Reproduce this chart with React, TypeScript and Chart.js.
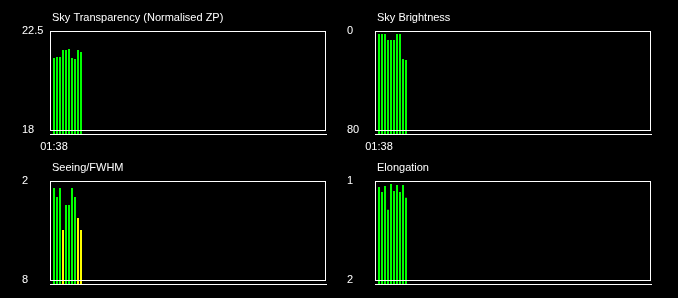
import React, { useEffect, useRef } from "react";
import { Chart, registerables } from "chart.js";

Chart.register(...registerables);

// ---- data ----
const times = ["01:38"];
const slotCount = 92; // number of time slots in the night window

const transparency = [21.27, 21.32, 21.32, 21.64, 21.64, 21.68, 21.27, 21.23, 21.64, 21.55];
const brightness = [2.4, 2.4, 2.4, 7.3, 7.3, 7.3, 2.4, 2.4, 22.6, 23.4];
const seeing = [2.42, 2.97, 2.42, 4.97, 3.45, 3.45, 2.42, 2.97, 4.24, 4.97];
const elongation = [1.06, 1.11, 1.05, 1.29, 1.03, 1.1, 1.04, 1.11, 1.04, 1.17];

const transparencyTicks = [22.5, 18];
const brightnessTicks = [0, 80];
const seeingTicks = [2, 8];
const elongationTicks = [1, 2];

const seeingWarn = 4; // seeing above this is shown in yellow

// ---- styles ----
const GREEN = "#00ff00";
const YELLOW = "#ffff00";
const WHITE = "#ffffff";
const FONT = "'Liberation Sans', Arial, sans-serif";

const boxPlugin = {
  id: "panelBox",
  afterDatasetsDraw(chart: any, _args: any, opts: any) {
    const { ctx, chartArea, scales } = chart;
    const y = scales.y;
    const t = Math.round(y.getPixelForValue(opts.top)) + 0.5;
    const b = Math.round(y.getPixelForValue(opts.bottom)) + 0.5;
    const l = Math.round(chartArea.left) + 0.5;
    const r = Math.round(chartArea.right) - 0.5;
    ctx.save();
    ctx.strokeStyle = WHITE;
    ctx.lineWidth = 1;
    ctx.strokeRect(l, t, r - l, b - t);
    ctx.restore();
  },
};

const titlePlugin = {
  id: "panelTitle",
  afterDraw(chart: any, _args: any, opts: any) {
    const { ctx, chartArea } = chart;
    ctx.save();
    ctx.fillStyle = WHITE;
    ctx.font = `11px ${FONT}`;
    ctx.textAlign = "left";
    ctx.textBaseline = "alphabetic";
    ctx.fillText(opts.text, chartArea.left + 2, 21);
    ctx.restore();
  },
};

type PanelProps = {
  title: string;
  values: number[];
  ticks: number[];
  colors: string[];
  showTime: boolean;
  left: number;
  top: number;
  width: number;
  height: number;
  padLeft: number;
  padRight: number;
};

function Panel(p: PanelProps) {
  const ref = useRef<HTMLCanvasElement>(null);
  useEffect(() => {
    if (!ref.current) return;
    const [topVal, bottomVal] = p.ticks;
    const reversed = topVal < bottomVal;
    const ext = (Math.abs(bottomVal - topVal) * 4) / 99;
    const yMin = reversed ? topVal : bottomVal - ext;
    const yMax = reversed ? bottomVal + ext : topVal;
    const xMin = -4 / 3;
    const chart = new Chart(ref.current, {
      type: "bar",
      data: {
        datasets: [
          {
            data: p.values.map((v, i) => ({ x: i, y: v })),
            backgroundColor: p.colors,
            borderWidth: 0,
            inflateAmount: 0,
            barThickness: 2,
            base: reversed ? yMax : yMin,
          } as any,
        ],
      },
      plugins: [boxPlugin, titlePlugin],
      options: {
        responsive: false,
        animation: false,
        events: [],
        layout: { padding: { left: p.padLeft, right: p.padRight, top: 31, bottom: 0 } },
        plugins: {
          legend: { display: false },
          tooltip: { enabled: false },
          title: { display: false },
          panelBox: { top: topVal, bottom: bottomVal },
          panelTitle: { text: p.title },
        } as any,
        scales: {
          x: {
            type: "linear",
            offset: false,
            min: xMin,
            max: xMin + slotCount,
            grid: { display: false, drawTicks: false, offset: false },
            border: { display: true, color: WHITE, width: 1 },
            ticks: {
              display: p.showTime,
              color: WHITE,
              font: { size: 11, family: FONT },
              padding: 6,
              maxRotation: 0,
              autoSkip: false,
              callback: () => times[0],
            },
            afterBuildTicks: (s: any) => {
              s.ticks = [{ value: 0 }];
            },
            afterFit: (s: any) => {
              s.height = p.height - 134;
            },
          },
          y: {
            type: "linear",
            position: "left",
            min: yMin,
            max: yMax,
            reverse: reversed,
            grid: { display: false, drawTicks: false },
            border: { display: false },
            ticks: {
              color: WHITE,
              font: { size: 11, family: FONT },
              crossAlign: "far",
              padding: 0,
              autoSkip: false,
              callback: (v: any) => String(v),
            },
            afterBuildTicks: (s: any) => {
              s.ticks = p.ticks.map((v) => ({ value: v }));
            },
            afterFit: (s: any) => {
              s.width = 28;
            },
          },
        },
      } as any,
    });
    return () => chart.destroy();
  }, []);
  return (
    <canvas
      ref={ref}
      width={p.width}
      height={p.height}
      style={{ position: "absolute", left: p.left, top: p.top, width: p.width, height: p.height }}
    />
  );
}

export default function App() {
  const allGreen = (vals: number[]) => vals.map(() => GREEN);
  const seeingColors = seeing.map((v) => (v > seeingWarn ? YELLOW : GREEN));
  return (
    <div
      style={{
        position: "fixed",
        left: 0,
        top: 0,
        width: 678,
        height: 298,
        background: "#000",
        overflow: "hidden",
      }}
    >
      <Panel
        title="Sky Transparency (Normalised ZP)"
        values={transparency}
        ticks={transparencyTicks}
        colors={allGreen(transparency)}
        showTime={true}
        left={0}
        top={0}
        width={339}
        height={150}
        padLeft={22}
        padRight={13}
      />
      <Panel
        title="Sky Brightness"
        values={brightness}
        ticks={brightnessTicks}
        colors={allGreen(brightness)}
        showTime={true}
        left={339}
        top={0}
        width={339}
        height={150}
        padLeft={8}
        padRight={27}
      />
      <Panel
        title="Seeing/FWHM"
        values={seeing}
        ticks={seeingTicks}
        colors={seeingColors}
        showTime={false}
        left={0}
        top={150}
        width={339}
        height={148}
        padLeft={22}
        padRight={13}
      />
      <Panel
        title="Elongation"
        values={elongation}
        ticks={elongationTicks}
        colors={allGreen(elongation)}
        showTime={false}
        left={339}
        top={150}
        width={339}
        height={148}
        padLeft={8}
        padRight={27}
      />
    </div>
  );
}
